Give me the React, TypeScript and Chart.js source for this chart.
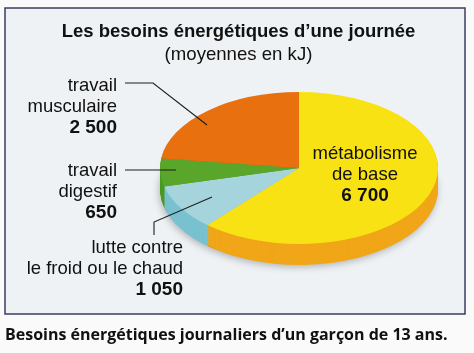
import React, { useEffect, useRef } from "react";
import { Chart, ArcElement, PieController, Title, SubTitle } from "chart.js";

Chart.register(ArcElement, PieController, Title, SubTitle);

const categories = ["métabolisme de base", "lutte contre le froid ou le chaud", "travail digestif", "travail musculaire"];
const values = [6700, 1050, 650, 2500];
const topColors = ["#f8e213", "#a5d4dc", "#5aa62a", "#e8700f"];
const sideColors = ["#f0a618", "#79c1cf", "#4a9a22", "#c85f10"];
const titleText = "Les besoins énergétiques d’une journée";
const subtitleText = "(moyennes en kJ)";
const captionText = "Besoins énergétiques journaliers d’un garçon de 13 ans.";
const sliceLabels = [
  { lines: ["métabolisme", "de base"], value: "6 700", x: 365, y: 159, align: "center" },
  { lines: ["lutte contre", "le froid ou le chaud"], value: "1 050", x: 183, y: 253, align: "right" },
  { lines: ["travail", "digestif"], value: "650", x: 117, y: 176, align: "right" },
  { lines: ["travail", "musculaire"], value: "2 500", x: 117, y: 91, align: "right" },
];
const leaders = [
  [[125, 83], [153, 83], [207, 125]],
  [[125, 170], [176, 170]],
  [[212, 197], [154, 222], [154, 235]],
];

const SANS = "'Liberation Sans', Arial, sans-serif";

const decor = {
  id: "decor",
  beforeDraw(chart: any) {
    const { ctx, width, height } = chart;
    ctx.save();
    ctx.fillStyle = "#fafafa";
    ctx.fillRect(0, 0, width, height);
    ctx.fillStyle = "#eff2f4";
    ctx.fillRect(5, 8, 460, 306);
    ctx.strokeStyle = "#3d3c60";
    ctx.lineWidth = 1.5;
    ctx.strokeRect(5, 8, 460, 306);
    ctx.restore();
  },
  beforeDatasetsDraw(chart: any) {
    const { ctx } = chart;
    const arcs = chart.getDatasetMeta(0).data;
    const a0 = arcs[0];
    const R = a0.outerRadius;
    const place = (dy: number) => {
      ctx.setTransform(1, 0, 0, 1, 0, 0);
      ctx.translate(299, 168 + dy);
      ctx.scale(139 / R, 76 / R);
      ctx.translate(-a0.x, -a0.y);
    };
    ctx.save();
    for (let d = 21; d >= 1; d--) {
      place(d);
      if (d === 21) {
        ctx.shadowColor = "rgba(60,60,70,0.35)";
        ctx.shadowBlur = 7;
        ctx.shadowOffsetX = -1;
        ctx.shadowOffsetY = 2;
      } else {
        ctx.shadowColor = "transparent";
        ctx.shadowBlur = 0;
        ctx.shadowOffsetX = 0;
        ctx.shadowOffsetY = 0;
      }
      arcs.forEach((el: any, i: number) => {
        const side: any = new ArcElement();
        Object.assign(side, {
          x: el.x, y: el.y, startAngle: el.startAngle, endAngle: el.endAngle,
          innerRadius: el.innerRadius, outerRadius: el.outerRadius, circumference: el.circumference,
          options: { ...el.options, backgroundColor: sideColors[i], borderWidth: 0 },
        });
        side.draw(ctx);
      });
    }
    ctx.shadowColor = "transparent";
    ctx.shadowBlur = 0;
    ctx.shadowOffsetX = 0;
    ctx.shadowOffsetY = 0;
    place(0);
  },
  afterDatasetsDraw(chart: any) {
    const { ctx } = chart;
    ctx.restore();
    ctx.save();
    ctx.strokeStyle = "#1c1c1c";
    ctx.lineWidth = 1.1;
    leaders.forEach((pts) => {
      ctx.beginPath();
      pts.forEach(([x, y], i) => (i ? ctx.lineTo(x, y) : ctx.moveTo(x, y)));
      ctx.stroke();
    });
    ctx.fillStyle = "#111";
    ctx.textBaseline = "alphabetic";
    sliceLabels.forEach((l) => {
      ctx.textAlign = l.align;
      ctx.font = `18.5px ${SANS}`;
      l.lines.forEach((t, i) => ctx.fillText(t, l.x, l.y + i * 21));
      ctx.font = `bold 19px ${SANS}`;
      ctx.fillText(l.value, l.x, l.y + l.lines.length * 21);
    });
    ctx.textAlign = "left";
    ctx.font = "bold 16px 'Open Sans', sans-serif";
    ctx.fillStyle = "#111";
    ctx.fillText(captionText, 5, 340);
    ctx.restore();
  },
};

export default function App() {
  const ref = useRef<HTMLCanvasElement>(null);
  useEffect(() => {
    const chart = new Chart(ref.current!, {
      type: "pie",
      data: {
        labels: categories,
        datasets: [{ data: values, backgroundColor: topColors, borderWidth: 0 }],
      },
      options: {
        responsive: false,
        animation: false,
        events: [],
        layout: { padding: { left: 3, right: 0, top: 0, bottom: 0 } },
        plugins: {
          legend: { display: false },
          tooltip: { enabled: false },
          title: {
            display: true,
            text: titleText,
            color: "#111",
            font: { family: SANS, size: 18.5, weight: "bold" },
            padding: { top: 21, bottom: 1 },
          },
          subtitle: {
            display: true,
            text: subtitleText,
            color: "#111",
            font: { family: SANS, size: 18.6 },
            padding: { top: 0, bottom: 0 },
          },
        },
      },
      plugins: [decor],
    } as any);
    return () => chart.destroy();
  }, []);
  return (
    <canvas
      ref={ref}
      width={474}
      height={353}
      style={{ position: "absolute", left: 0, top: 0, display: "block", width: 474, height: 353 }}
    />
  );
}
